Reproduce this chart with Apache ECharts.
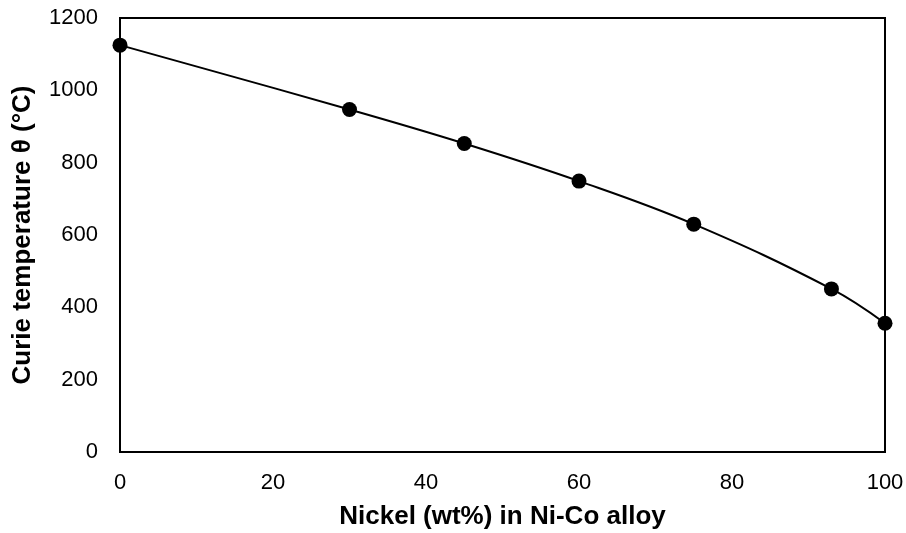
<!DOCTYPE html>
<html><head><meta charset="utf-8">
<script src="https://cdn.jsdelivr.net/npm/echarts@6/dist/echarts.min.js"></script>
<style>html,body{margin:0;padding:0;background:#fff}#c{width:906px;height:533px}</style>
</head><body><div id="c"></div>
<script>
const nickel = [0, 30, 45, 60, 75, 93, 100];
const curieTemp = [1125, 947, 853, 749, 630, 451, 356];
const xTitle = 'Nickel (wt%) in Ni-Co alloy';
const yTitle = 'Curie temperature θ (°C)';
const chart = echarts.init(document.getElementById('c'));
const font = '"Liberation Sans", Arial, sans-serif';
chart.setOption({
  animation: false,
  grid: {left: 120, right: 21, top: 18, bottom: 81, outerBoundsMode: 'none', containLabel: false, show: true, borderColor: '#000', borderWidth: 2, backgroundColor: 'transparent'},
  xAxis: {
    type: 'value', min: 0, max: 100, interval: 20,
    name: xTitle, nameLocation: 'middle', nameGap: 52,
    nameTextStyle: {fontFamily: font, fontSize: 26, fontWeight: 'bold', color: '#000'},
    axisLine: {show: true, lineStyle: {color: '#000', width: 2}},
    axisTick: {show: false}, splitLine: {show: false},
    axisLabel: {fontFamily: font, fontSize: 22, color: '#000', margin: 20, formatter: v => String(v)}
  },
  yAxis: {
    type: 'value', min: 0, max: 1200, interval: 200,
    name: yTitle, nameLocation: 'middle', nameGap: 84,
    nameTextStyle: {fontFamily: font, fontSize: 26, fontWeight: 'bold', color: '#000'},
    axisLine: {show: true, lineStyle: {color: '#000', width: 2}},
    axisTick: {show: false}, splitLine: {show: false},
    axisLabel: {fontFamily: font, fontSize: 22, color: '#000', margin: 22, formatter: v => String(v)}
  },
  series: [{
    type: 'line', smooth: 0.4,
    data: nickel.map((x, i) => [x, curieTemp[i]]),
    symbol: 'circle', symbolSize: 15,
    itemStyle: {color: '#000'},
    lineStyle: {color: '#000', width: 2}
  }]
});
</script></body></html>
